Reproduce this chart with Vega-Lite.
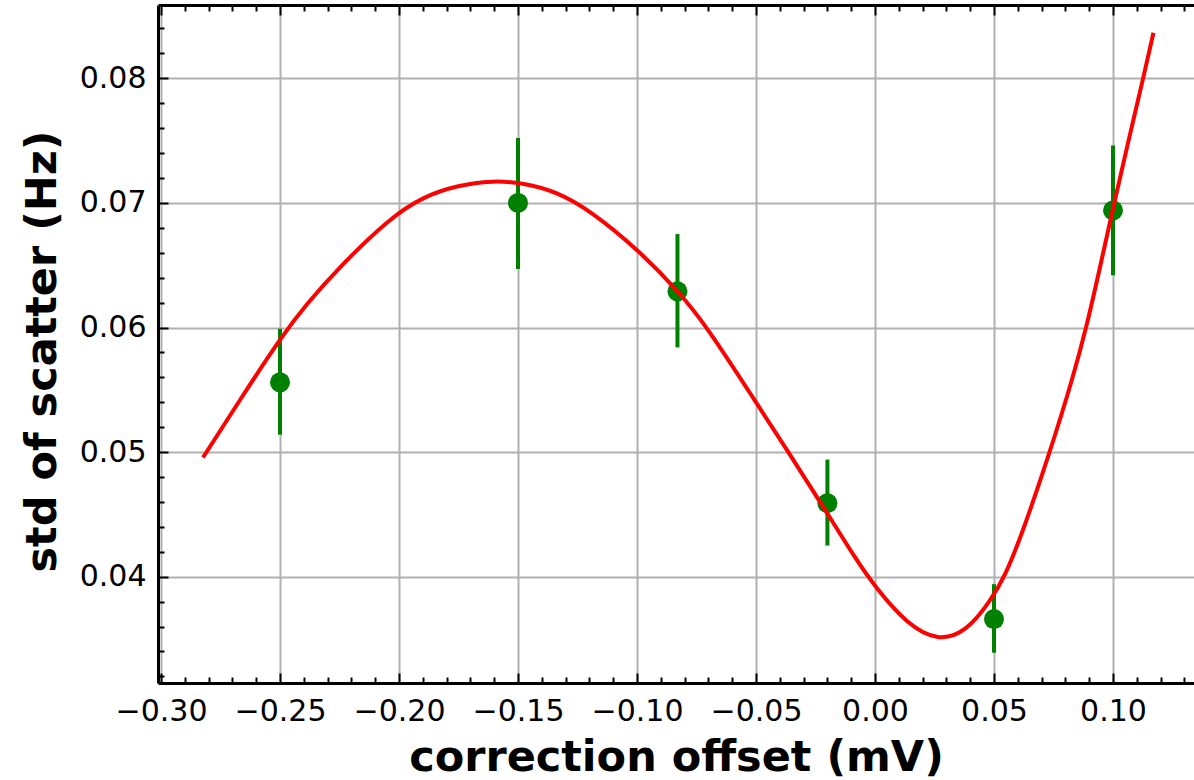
{
  "$schema": "https://vega.github.io/schema/vega-lite/v6.json",
  "width": 1036,
  "height": 678,
  "autosize": "none",
  "padding": {"left": 158, "top": 5, "right": 0, "bottom": 97},
  "background": "white",
  "config": {"view": {"stroke": null}, "font": "DejaVu Sans"},
  "datasets": {
    "curve": [
      {"x": -0.2819, "y": 0.0497}, {"x": -0.2668, "y": 0.0542}, {"x": -0.2493, "y": 0.0593}, {"x": -0.2388, "y": 0.0619},
      {"x": -0.2248, "y": 0.0649}, {"x": -0.2038, "y": 0.0688}, {"x": -0.1898, "y": 0.0705}, {"x": -0.1758, "y": 0.0714},
      {"x": -0.1604, "y": 0.0718}, {"x": -0.1478, "y": 0.0716}, {"x": -0.1337, "y": 0.0709}, {"x": -0.1197, "y": 0.0694},
      {"x": -0.0987, "y": 0.0661}, {"x": -0.0826, "y": 0.0629}, {"x": -0.0707, "y": 0.0601}, {"x": -0.0497, "y": 0.0539},
      {"x": -0.0357, "y": 0.0498}, {"x": -0.0217, "y": 0.0456}, {"x": -0.0077, "y": 0.0413}, {"x": 0.0, "y": 0.0392},
      {"x": 0.0133, "y": 0.0362}, {"x": 0.0266, "y": 0.0348}, {"x": 0.0385, "y": 0.0356}, {"x": 0.0483, "y": 0.0380},
      {"x": 0.0546, "y": 0.0400}, {"x": 0.0623, "y": 0.0437}, {"x": 0.0735, "y": 0.0500}, {"x": 0.0832, "y": 0.0560},
      {"x": 0.0888, "y": 0.0600}, {"x": 0.0944, "y": 0.0647}, {"x": 0.1005, "y": 0.0700}, {"x": 0.1065, "y": 0.0750},
      {"x": 0.1127, "y": 0.0800}, {"x": 0.1168, "y": 0.0835}
    ],
    "points": [
      {"x": -0.25, "y": 0.0556, "lo": 0.0514, "hi": 0.0599},
      {"x": -0.15, "y": 0.0700, "lo": 0.0647, "hi": 0.0752},
      {"x": -0.083, "y": 0.0629, "lo": 0.0584, "hi": 0.0675},
      {"x": -0.02, "y": 0.0459, "lo": 0.0425, "hi": 0.0494},
      {"x": 0.05, "y": 0.0366, "lo": 0.0339, "hi": 0.0394},
      {"x": 0.10, "y": 0.0694, "lo": 0.0642, "hi": 0.0746}
    ]
  },
  "layer": [
    {
      "data": {"name": "points"},
      "mark": {"type": "point", "opacity": 0},
      "encoding": {
        "x": {
          "field": "x", "type": "quantitative",
          "scale": {"domain": [-0.30126, 0.13403], "nice": false, "zero": false},
          "axis": {
            "orient": "bottom",
            "values": [-0.30,-0.29,-0.28,-0.27,-0.26,-0.25,-0.24,-0.23,-0.22,-0.21,-0.20,-0.19,-0.18,-0.17,-0.16,-0.15,-0.14,-0.13,-0.12,-0.11,-0.10,-0.09,-0.08,-0.07,-0.06,-0.05,-0.04,-0.03,-0.02,-0.01,0.0,0.01,0.02,0.03,0.04,0.05,0.06,0.07,0.08,0.09,0.10,0.11,0.12,0.13],
            "labelExpr": "round(datum.value*100)%5==0 ? replace(format(datum.value,'.2f'),'-','\u2212') : ''",
            "labelOverlap": false,
            "labelFlush": false,
            "labelFontSize": 30,
            "labelColor": "black",
            "labelPadding": 23,
            "tickSize": {"condition": {"test": "round(datum.value*100)%5==0", "value": -10}, "value": -6},
            "tickWidth": 2,
            "tickColor": "black",
            "grid": true,
            "gridColor": "#b0b0b0",
            "gridWidth": 2,
            "gridOpacity": {"condition": {"test": "round(datum.value*100)%5==0", "value": 1}, "value": 0},
            "domainColor": "black",
            "domainWidth": 3,
            "title": "correction offset (mV)",
            "titleFontSize": 43,
            "titleFontWeight": "bold",
            "titleColor": "black",
            "titlePadding": 6
          }
        },
        "y": {
          "field": "y", "type": "quantitative",
          "scale": {"domain": [0.031469, 0.085883], "nice": false, "zero": false},
          "axis": {
            "orient": "left",
            "values": [0.032,0.034,0.036,0.038,0.040,0.042,0.044,0.046,0.048,0.050,0.052,0.054,0.056,0.058,0.060,0.062,0.064,0.066,0.068,0.070,0.072,0.074,0.076,0.078,0.080,0.082,0.084],
            "labelExpr": "round(datum.value*1000)%10==0 ? format(datum.value,'.2f') : ''",
            "labelOverlap": false,
            "labelFlush": false,
            "labelFontSize": 30,
            "labelColor": "black",
            "labelPadding": 22,
            "tickSize": {"condition": {"test": "round(datum.value*1000)%10==0", "value": -10}, "value": -6},
            "tickWidth": 2,
            "tickColor": "black",
            "grid": true,
            "gridColor": "#b0b0b0",
            "gridWidth": 2,
            "gridOpacity": {"condition": {"test": "round(datum.value*1000)%10==0", "value": 1}, "value": 0},
            "domainColor": "black",
            "domainWidth": 3,
            "title": "std of scatter (Hz)",
            "titleFontSize": 43,
            "titleFontWeight": "bold",
            "titleColor": "black",
            "titlePadding": 15,
            "titleY": 346
          }
        }
      }
    },
    {
      "data": {"name": "points"},
      "mark": {"type": "point", "opacity": 0},
      "encoding": {
        "x": {
          "field": "x", "type": "quantitative",
          "axis": {
            "orient": "top",
            "values": [-0.30,-0.29,-0.28,-0.27,-0.26,-0.25,-0.24,-0.23,-0.22,-0.21,-0.20,-0.19,-0.18,-0.17,-0.16,-0.15,-0.14,-0.13,-0.12,-0.11,-0.10,-0.09,-0.08,-0.07,-0.06,-0.05,-0.04,-0.03,-0.02,-0.01,0.0,0.01,0.02,0.03,0.04,0.05,0.06,0.07,0.08,0.09,0.10,0.11,0.12,0.13],
            "labels": false,
            "grid": false,
            "title": null,
            "tickSize": {"condition": {"test": "round(datum.value*100)%5==0", "value": -10}, "value": -6},
            "tickWidth": 2,
            "tickColor": "black",
            "domainColor": "black",
            "domainWidth": 3
          }
        },
        "y": {"field": "y", "type": "quantitative", "axis": null}
      }
    },
    {
      "data": {"name": "points"},
      "mark": {"type": "rule", "color": "#008000", "strokeWidth": 4},
      "encoding": {
        "x": {"field": "x", "type": "quantitative", "axis": null},
        "y": {"field": "lo", "type": "quantitative", "axis": null},
        "y2": {"field": "hi"}
      }
    },
    {
      "data": {"name": "points"},
      "mark": {"type": "point", "shape": "circle", "filled": true, "color": "#008000", "opacity": 1, "size": 400},
      "encoding": {
        "x": {"field": "x", "type": "quantitative", "axis": null},
        "y": {"field": "y", "type": "quantitative", "axis": null}
      }
    },
    {
      "data": {"name": "curve"},
      "mark": {"type": "line", "color": "#ff0000", "strokeWidth": 4, "interpolate": "basis", "strokeCap": "square"},
      "encoding": {
        "x": {"field": "x", "type": "quantitative", "axis": null},
        "y": {"field": "y", "type": "quantitative", "axis": null}
      }
    }
  ],
  "resolve": {"axis": {"x": "independent", "y": "independent"}}
}
